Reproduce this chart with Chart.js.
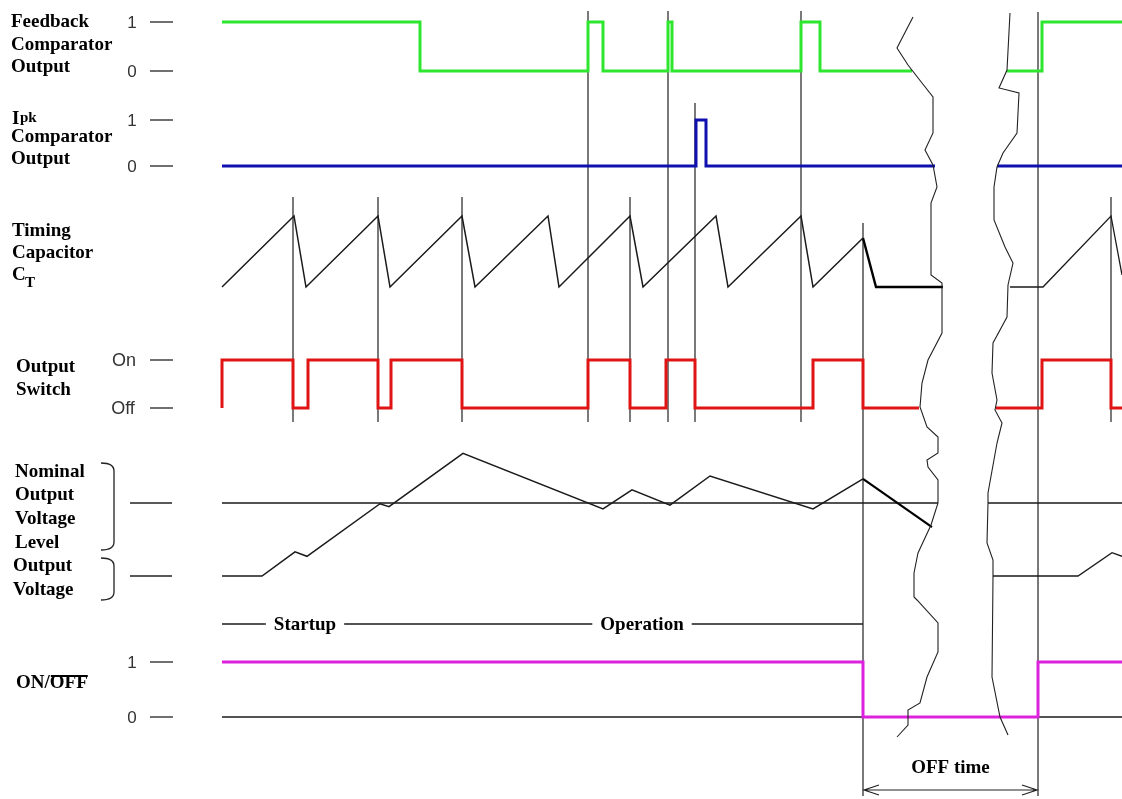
<!DOCTYPE html>
<html>
<head>
<meta charset="utf-8">
<script src="https://cdn.jsdelivr.net/npm/chart.js@4.4.0/dist/chart.umd.min.js"></script>
<style>
  html, body { margin: 0; padding: 0; background: #fff; }
  #wrap { position: relative; width: 1122px; height: 799px; }
</style>
</head>
<body>
<div id="wrap"><canvas id="timing"></canvas></div>
<script>
// Time runs 0..1122 (one unit per pixel of the original sheet).
// Digital traces: edge times, level after each edge, end of the trace.
const fbTimes = [222, 420, 588, 603, 668, 672, 801, 820];
const fbLevels = [1, 0, 1, 0, 1, 0, 1, 0];
const fbEnd = 912;
const fbTimes2 = [1007, 1042];
const fbLevels2 = [0, 1];

const ipkTimes = [222, 696, 706];
const ipkLevels = [0, 1, 0];
const ipkEnd = 935;
const ipkTimes2 = [997];
const ipkLevels2 = [0];

const swTimes = [222, 222, 293, 308, 378, 391, 462, 588, 630, 666, 695, 813, 863];
const swLevels = [0, 1, 0, 1, 0, 1, 0, 1, 0, 1, 0, 1, 0];
const swEnd = 919;
const swTimes2 = [996, 1042, 1111];
const swLevels2 = [0, 1, 0];

const onTimes = [222, 863, 1038];
const onLevels = [1, 0, 1];

// Timing capacitor, 0 = valley, 1 = peak
const ctTimes = [222, 294, 306, 378, 390, 462, 475, 548, 559, 630, 643, 716, 728, 801, 813, 863];
const ctValues = [0, 1, 0, 1, 0, 1, 0, 1, 0, 1, 0, 1, 0, 1, 0, 0.69];
const ctOffTimes = [863, 876, 943];
const ctOffValues = [0.69, 0, 0];
const ctTimes2 = [1010, 1043, 1111, 1122];
const ctValues2 = [0, 0, 1, 0.17];

// Output voltage, 1 = nominal level
const voTimes = [222, 262, 295, 307, 380, 389, 463, 603, 632, 670, 710, 813, 863];
const voValues = [0, 0, 0.33, 0.27, 0.99, 0.95, 1.68, 0.92, 1.18, 0.97, 1.37, 0.92, 1.33];
const voOffTimes = [863, 932];
const voOffValues = [1.33, 0.67];
const voTimes2 = [993, 1078, 1112, 1122];
const voValues2 = [0, 0, 0.32, 0.27];
const nominalSpans = [[222, 938], [988, 1122]];

// Switching instants marked with thin vertical lines
const edgeShort = [293, 378, 462, 630, 1111];
const edgeTall = [588, 668, 801];
const edgeIpk = [695];
const offStart = 863;
const offEnd = 1038;

const phaseNames = ['Startup', 'Operation'];
const phaseMid = [305, 642];

// Break marks (time, sheet height)
const breakLeft = [[913,17],[897,48],[908,65],[922,83],[933,97],[933,133],[925,150],[933,165],[937,187],[931,203],[931,275],[942,283],[942,333],[928,360],[922,383],[920,407],[927,427],[938,437],[938,453],[927,460],[928,467],[938,480],[938,503],[931,525],[918,553],[914,573],[914,597],[917,600],[938,623],[938,652],[927,677],[920,703],[908,710],[908,725],[897,737]];
const breakRight = [[1010,13],[1007,70],[999,88],[1019,93],[1017,133],[1003,153],[997,167],[994,187],[994,220],[1005,247],[1013,263],[1008,285],[1007,317],[993,343],[992,373],[997,400],[995,410],[1002,423],[997,443],[988,493],[988,503],[987,543],[993,560],[993,577],[992,677],[1000,717],[1008,735]];

// lane geometry: sheet height for level 0 and level 1
const lanes = {
  fb: { lo: 71, hi: 22 },
  ipk: { lo: 166, hi: 120 },
  ct: { lo: 287, hi: 216 },
  sw: { lo: 408, hi: 360 },
  vo: { lo: 576, hi: 503 },
  on: { lo: 717, hi: 662 }
};
const laneY = (lane, v) => lane.lo + (lane.hi - lane.lo) * v;

function steps(times, levels, end) {
  const pts = [{ x: times[0], y: levels[0] }];
  for (let i = 1; i < times.length; i++) {
    pts.push({ x: times[i], y: levels[i - 1] }, { x: times[i], y: levels[i] });
  }
  pts.push({ x: end, y: levels[levels.length - 1] });
  return pts;
}
function pairs(times, values) {
  return times.map((t, i) => ({ x: t, y: values[i] }));
}
function onLane(pts, lane) {
  return pts.map(p => ({ x: p.x, y: p.y === null ? null : laneY(lane, p.y) }));
}
function verticals(times, top, bottom) {
  const pts = [];
  times.forEach(t => pts.push({ x: t, y: top }, { x: t, y: bottom }, { x: t, y: null }));
  return pts;
}

function trace(pts, color, width, order) {
  return {
    data: pts, showLine: true, borderColor: color, borderWidth: width,
    pointRadius: 0, fill: false, tension: 0, order: order,
    borderJoinStyle: 'miter', borderCapStyle: 'butt', spanGaps: false
  };
}

const GREEN = '#2ee62e', BLUE = '#1010b0', RED = '#e01414', MAGENTA = '#dd22dd', INK = '#1a1a1a';

const edgeBottom = 422;
const datasets = [
  trace(onLane(steps(fbTimes, fbLevels, fbEnd), lanes.fb), GREEN, 3, 1),
  trace(onLane(steps(fbTimes2, fbLevels2, 1122), lanes.fb), GREEN, 3, 1),
  trace(onLane(steps(ipkTimes, ipkLevels, ipkEnd), lanes.ipk), BLUE, 3, 1),
  trace(onLane(steps(ipkTimes2, ipkLevels2, 1122), lanes.ipk), BLUE, 3, 1),
  trace(onLane(steps(swTimes, swLevels, swEnd), lanes.sw), RED, 3, 1),
  trace(onLane(steps(swTimes2, swLevels2, 1122), lanes.sw), RED, 3, 1),
  trace(onLane(steps(onTimes, onLevels, 1122), lanes.on), MAGENTA, 3, 1),
  trace(onLane(pairs(ctTimes, ctValues), lanes.ct), INK, 1.5, 2),
  trace(onLane(pairs(ctOffTimes, ctOffValues), lanes.ct), '#000', 2.4, 2),
  trace(onLane(pairs(ctTimes2, ctValues2), lanes.ct), INK, 1.3, 2),
  trace(onLane(pairs(voTimes, voValues), lanes.vo), INK, 1.5, 2),
  trace(onLane(pairs(voOffTimes, voOffValues), lanes.vo), '#000', 2.2, 2),
  trace(onLane(pairs(voTimes2, voValues2), lanes.vo), INK, 1.3, 2),
  trace(nominalSpans.flatMap(s => [{ x: s[0], y: laneY(lanes.vo, 1) }, { x: s[1], y: laneY(lanes.vo, 1) }, { x: s[1], y: null }]), INK, 1.3, 3),
  trace([{ x: 222, y: laneY(lanes.on, 0) }, { x: 1122, y: laneY(lanes.on, 0) }], INK, 1.3, 3),
  trace([{ x: 222, y: 624 }, { x: offStart, y: 624 }], INK, 1.3, 3),
  trace(verticals(edgeShort, 197, edgeBottom), '#222', 1.2, 4),
  trace(verticals(edgeTall, 11, edgeBottom), '#222', 1.2, 4),
  trace(verticals(edgeIpk, 103, edgeBottom), '#222', 1.2, 4),
  trace(verticals([offStart], 223, 796), '#222', 1.2, 4),
  trace(verticals([offEnd], 12, 796), '#222', 1.2, 4),
  trace(breakLeft.map(p => ({ x: p[0], y: p[1] })), '#222', 1.1, 0),
  trace(breakRight.map(p => ({ x: p[0], y: p[1] })), '#222', 1.1, 0)
];

const SERIF = 'bold 19px "Liberation Serif", "Times New Roman", serif';
const SUB = 'bold 15px "Liberation Serif", "Times New Roman", serif';
const SANS = '17px "Liberation Sans", Arial, sans-serif';

const sheet = {
  id: 'sheet',
  afterDatasetsDraw(chart) {
    const { ctx, scales: { x, y } } = chart;
    const px = v => x.getPixelForValue(v), py = v => y.getPixelForValue(v);
    ctx.save();
    ctx.fillStyle = '#000';
    ctx.textBaseline = 'alphabetic';
    ctx.textAlign = 'left';
    ctx.font = SERIF;
    const text = (s, tx, ty) => ctx.fillText(s, px(tx), py(ty));
    text('Feedback', 11, 27); text('Comparator', 11, 50); text('Output', 11, 72);
    text('I', 12, 124);
    ctx.font = SUB;
    text('pk', 20, 122);
    ctx.font = SERIF;
    text('Comparator', 11, 142); text('Output', 11, 164);
    text('Timing', 12, 236); text('Capacitor', 12, 258); text('C', 12, 280);
    ctx.font = SUB;
    text('T', 25, 287);
    ctx.font = SERIF;
    text('Output', 16, 372); text('Switch', 16, 395);
    text('Nominal', 15, 477); text('Output', 15, 500); text('Voltage', 15, 524); text('Level', 15, 548);
    text('Output', 13, 571); text('Voltage', 13, 595);
    // ON/OFF with bar over OFF
    text('ON/', 16, 688);
    const w1 = ctx.measureText('ON/').width;
    const w2 = ctx.measureText('OFF').width;
    ctx.fillText('OFF', px(16) + w1, py(688));
    ctx.fillRect(px(16) + w1 + 1, py(675), w2 - 1, 2);

    // lane level ticks
    ctx.font = SANS;
    ctx.fillStyle = '#333';
    ctx.textBaseline = 'middle';
    ctx.textAlign = 'center';
    const tick = (lbl, lane, v, lx) => {
      ctx.fillText(lbl, px(lx), py(laneY(lane, v)) + 1);
      ctx.beginPath();
      ctx.moveTo(px(150), py(laneY(lane, v)));
      ctx.lineTo(px(173), py(laneY(lane, v)));
      ctx.stroke();
    };
    ctx.strokeStyle = '#222';
    ctx.lineWidth = 1.3;
    tick('1', lanes.fb, 1, 132); tick('0', lanes.fb, 0, 132);
    tick('1', lanes.ipk, 1, 132); tick('0', lanes.ipk, 0, 132);
    ctx.font = '18px "Liberation Sans", Arial, sans-serif';
    tick('On', lanes.sw, 1, 124); tick('Off', lanes.sw, 0, 123);
    ctx.font = SANS;
    tick('1', lanes.on, 1, 132); tick('0', lanes.on, 0, 132);
    [1, 0].forEach(v => {
      ctx.beginPath();
      ctx.moveTo(px(130), py(laneY(lanes.vo, v)));
      ctx.lineTo(px(172), py(laneY(lanes.vo, v)));
      ctx.stroke();
    });

    // braces
    ctx.lineWidth = 1.3;
    const brace = (top, bottom) => {
      ctx.beginPath();
      ctx.moveTo(px(101), py(top));
      ctx.quadraticCurveTo(px(114), py(top), px(114), py(top + 8));
      ctx.lineTo(px(114), py(bottom - 8));
      ctx.quadraticCurveTo(px(114), py(bottom), px(101), py(bottom));
      ctx.stroke();
    };
    brace(463, 550);
    brace(558, 600);

    // phase labels over the phase line
    ctx.font = SERIF;
    ctx.textAlign = 'center';
    ctx.textBaseline = 'alphabetic';
    phaseNames.forEach((name, i) => {
      const w = ctx.measureText(name).width;
      ctx.fillStyle = '#fff';
      ctx.fillRect(px(phaseMid[i]) - w / 2 - 8, py(614), w + 16, 22);
      ctx.fillStyle = '#000';
      ctx.fillText(name, px(phaseMid[i]), py(630));
    });

    // OFF time dimension
    ctx.fillText('OFF time', px((offStart + offEnd) / 2), py(773));
    ctx.lineWidth = 1.2;
    ctx.beginPath();
    ctx.moveTo(px(offStart), py(790)); ctx.lineTo(px(offEnd), py(790));
    ctx.moveTo(px(offStart + 16), py(785)); ctx.lineTo(px(offStart + 1), py(790)); ctx.lineTo(px(offStart + 16), py(795));
    ctx.moveTo(px(offEnd - 16), py(785)); ctx.lineTo(px(offEnd - 1), py(790)); ctx.lineTo(px(offEnd - 16), py(795));
    ctx.stroke();
    ctx.restore();
  }
};

new Chart(document.getElementById('timing'), {
  type: 'scatter',
  data: { datasets: datasets },
  options: {
    responsive: true,
    maintainAspectRatio: false,
    animation: false,
    layout: { padding: 0 },
    plugins: { legend: { display: false }, tooltip: { enabled: false } },
    events: [],
    scales: {
      x: { type: 'linear', min: 0, max: 1122, display: false },
      y: { type: 'linear', min: 0, max: 799, reverse: true, display: false }
    }
  },
  plugins: [sheet]
});
</script>
</body>
</html>
